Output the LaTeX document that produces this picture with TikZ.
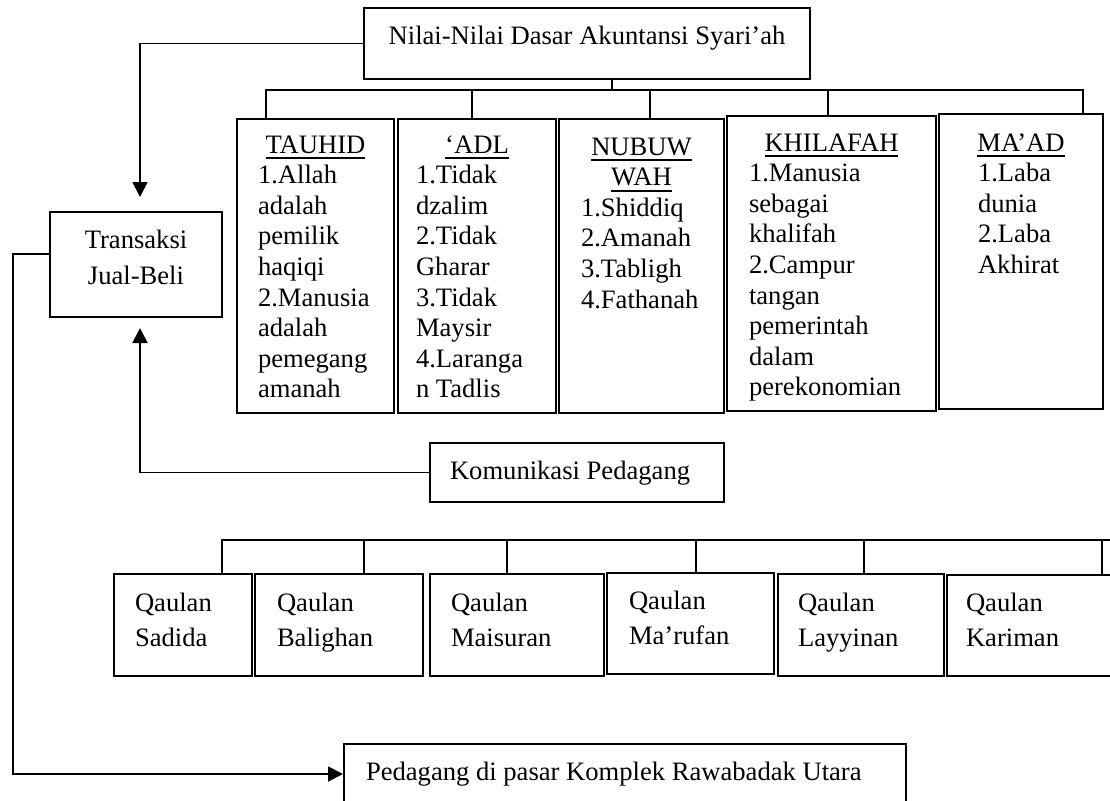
\documentclass[tikz,border=0pt]{standalone}
\usepackage{fontspec}
\setmainfont{Liberation Serif}
\usetikzlibrary{arrows.meta}

\newcommand{\head}[1]{\makebox[\linewidth]{\setbox0\hbox{#1}\rlap{\rule[-3pt]{\wd0}{0.8pt}}\box0}}
\newcommand{\boxtext}[4]{\parbox[t][#2][t]{#1}{\raggedright\rule{0pt}{#3}#4}}

\begin{document}
\begin{tikzpicture}[
		x = 0.5pt, y = -0.5pt,
		font = \fontsize{13.3}{15.3}\selectfont,
		box/.style = {draw, line width = 1pt, inner sep = 0pt, anchor = north west},
		qbox/.style = {box, font = \fontsize{13.3}{17.5}\selectfont},
		link/.style = {line width = 0.9pt},
		arrow/.style = {link, -{Triangle[length = 7.5pt, width = 7.5pt]}}
	]
	\useasboundingbox (0, 0) rectangle (1110, 800);
	\clip (0, 0) rectangle (1110, 800);

	\node [box] (nilai) at (363, 7) {\boxtext{223pt}{35.5pt}{18pt}{\makebox[\linewidth]{Nilai-Nilai Dasar Akuntansi Syari'ah}}};
	\node [box, font = \fontsize{13.3}{18}\selectfont] (transaksi) at (49, 211) {\boxtext{86pt}{52.5pt}{18pt}{\centering Transaksi\\Jual-Beli}};
	\node [box, inner xsep = 10pt] (komunikasi) at (429, 442) {\boxtext{127pt}{29.5pt}{18pt}{Komunikasi Pedagang}};
	\node [box, inner xsep = 11pt] (pedagang) at (343, 743) {\boxtext{259pt}{30pt}{18pt}{Pedagang di pasar Komplek Rawabadak Utara}};

	\node [box, inner xsep = 10.5pt] (tauhid) at (236, 118) {\boxtext{57.5pt}{147pt}{17pt}{\head{TAUHID}\\1.Allah\\adalah\\pemilik\\haqiqi\\2.Manusia\\adalah\\pemegang\\amanah}};
	\node [box, inner xsep = 9pt] (adl) at (397, 118) {\boxtext{61pt}{147pt}{17pt}{\head{`ADL}\\1.Tidak\\dzalim\\2.Tidak\\Gharar\\3.Tidak\\Maysir\\4.Laranga\\n Tadlis}};
	\node [box, inner xsep = 11pt] (nubuwwah) at (558, 118) {\boxtext{60.5pt}{147pt}{18pt}{\head{NUBUW}\\\head{WAH}\\1.Shiddiq\\2.Amanah\\3.Tabligh\\4.Fathanah}};
	\node [box, inner xsep = 11pt] (khilafah) at (726, 115) {\boxtext{82.5pt}{147.5pt}{17.5pt}{\head{KHILAFAH}\\1.Manusia\\sebagai\\khalifah\\2.Campur\\tangan\\pemerintah\\dalam\\perekonomian}};
	\node [box, inner xsep = 19.5pt] (maad) at (938, 113) {\boxtext{43pt}{147.5pt}{18.5pt}{\head{MA'AD}\\1.Laba\\dunia\\2.Laba\\Akhirat}};

	\node [qbox, inner xsep = 10.5pt] (sadida) at (113, 573) {\boxtext{48pt}{51pt}{18.5pt}{Qaulan\\Sadida}};
	\node [qbox, inner xsep = 11pt] (balighan) at (254, 573) {\boxtext{62pt}{51pt}{18.5pt}{Qaulan\\Balighan}};
	\node [qbox, inner xsep = 10.5pt] (maisuran) at (429, 573) {\boxtext{66pt}{51pt}{18.5pt}{Qaulan\\Maisuran}};
	\node [qbox, inner xsep = 11pt] (marufan) at (606, 572) {\boxtext{61.5pt}{50.5pt}{18pt}{Qaulan\\Ma'rufan}};
	\node [qbox, inner xsep = 10pt] (layyinan) at (777, 573) {\boxtext{63pt}{51pt}{18.5pt}{Qaulan\\Layyinan}};
	\node [qbox, inner xsep = 9.5pt] (kariman) at (946, 574) {\boxtext{66pt}{50.5pt}{18pt}{Qaulan\\Kariman}};

	\coordinate (topbar) at (0, 90);
	\coordinate (lowend) at (1112, 540);

	\coordinate (nilai-out) at ([xshift = 12.5pt]nilai.south);
	\coordinate (tauhid-in) at ([xshift = -24.75pt]tauhid.north);
	\coordinate (adl-in) at ([xshift = -2.5pt]adl.north);
	\coordinate (nubuwwah-in) at ([xshift = 4.25pt]nubuwwah.north);
	\coordinate (khilafah-in) at ([xshift = -1.75pt]khilafah.north);
	\coordinate (maad-in) at ([xshift = 31pt]maad.north);

	\coordinate (sadida-in) at ([xshift = 19.5pt]sadida.north);
	\coordinate (balighan-in) at ([xshift = 12.5pt]balighan.north);
	\coordinate (maisuran-in) at ([xshift = -5pt]maisuran.north);
	\coordinate (marufan-in) at ([xshift = 2.75pt]marufan.north);
	\coordinate (layyinan-in) at ([xshift = 1.5pt]layyinan.north);
	\coordinate (kariman-in) at ([xshift = 35pt]kariman.north);

	\coordinate (trans-top) at ([xshift = 2pt]transaksi.north);
	\coordinate (trans-bottom) at ([xshift = 2pt]transaksi.south);

	\draw [link] (tauhid-in) |- (maad-in |- topbar) -- (maad-in);
	\foreach \n in {nilai-out, adl-in, nubuwwah-in, khilafah-in}
		\draw [link] (\n) -- (\n |- topbar);

	\draw [link] (sadida-in) |- (lowend);
	\foreach \n in {balighan, maisuran, marufan, layyinan, kariman}
		\draw [link] (\n-in) -- (\n-in |- lowend);

	\draw [arrow, shorten > = 7pt] (nilai.west) -| (trans-top);
	\draw [arrow, shorten > = 5pt] (komunikasi.west) -| (trans-bottom);
	\draw [arrow] ([yshift = 5.25pt]transaksi.west) -- ++(-18pt, 0) |- (pedagang.west);
\end{tikzpicture}
\end{document}
